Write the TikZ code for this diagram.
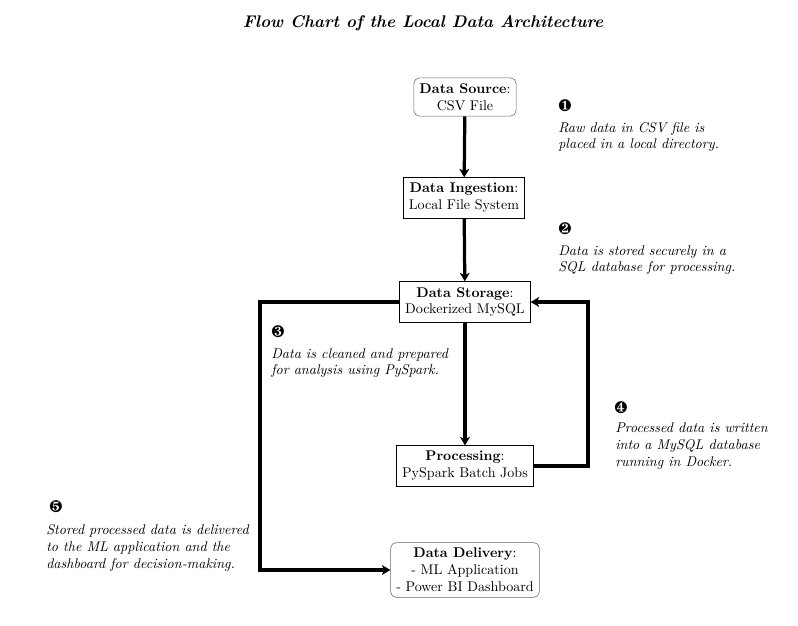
\documentclass[tikz,border=0pt]{standalone}
\usepackage{pifont}
\usetikzlibrary{arrows.meta}
\tikzstyle{block} = [draw, rectangle, align=center, inner sep=4pt, font=\normalsize]
\tikzstyle{terminal} = [block, rounded corners=4pt, draw=black!60]
\tikzstyle{stage} = [block, draw=black]
\tikzstyle{note} = [anchor=west, align=left, inner sep=0pt, font=\itshape]
\tikzstyle{marker} = [inner sep=0pt, font=\large]
\tikzstyle{flow} = [-{Stealth[length=6pt, width=7pt, inset=1.5pt]}, line width=2.3pt]

\begin{document}
\begin{tikzpicture}[x=0.025cm, y=-0.025cm]
    \useasboundingbox (0, 0) rectangle (798, 626);

    \node (title) at (423, 23) {\large\bfseries\itshape Flow Chart of the Local Data Architecture};

    \node (source) [terminal] at (465, 97) {\textbf{Data Source}:\\CSV File};
    \node (ingestion) [stage] at (464, 198) {\textbf{Data Ingestion}:\\Local File System};
    \node (storage) [stage] at (465, 302) {\textbf{Data Storage}:\\Dockerized MySQL};
    \node (processing) [stage] at (465, 466) {\textbf{Processing}:\\PySpark Batch Jobs};
    \node (delivery) [terminal] at (465, 570) {\textbf{Data Delivery}:\\- ML Application\\- Power BI Dashboard};

    % step notes
    \node (mark 1) [marker] at (565, 106) {\ding{182}};
    \node (note 1) [note] at (558, 137) {Raw data in CSV file is\\placed in a local directory.};
    \node (mark 2) [marker] at (565, 229) {\ding{183}};
    \node (note 2) [note] at (558, 260) {Data is stored securely in a\\SQL database for processing.};
    \node (mark 3) [marker] at (278, 332) {\ding{184}};
    \node (note 3) [note] at (271, 363) {Data is cleaned and prepared\\for analysis using PySpark.};
    \node (mark 4) [marker] at (621, 408) {\ding{185}};
    \node (note 4) [note] at (615, 446) {Processed data is written\\into a MySQL database\\running in Docker.};
    \node (mark 5) [marker] at (56, 507) {\ding{186}};
    \node (note 5) [note] at (46, 548) {Stored processed data is delivered\\to the ML application and the\\dashboard for decision-making.};

    \coordinate (left bus) at (260, 302);
    \coordinate (right bus) at (588, 466);

    \draw [flow] (source) -- (ingestion);
    \draw [flow] (ingestion) -- (storage);
    \draw [flow] (storage) -- (processing);
    \draw [flow] (processing.east) -- (right bus) |- (storage.east);
    \draw [flow] (storage.west) -- (left bus) |- (delivery.west);
\end{tikzpicture}
\end{document}
